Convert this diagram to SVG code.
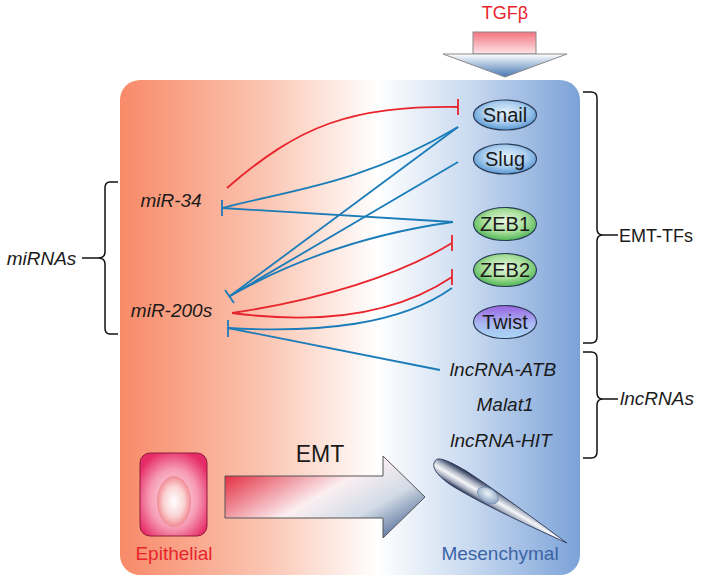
<svg xmlns="http://www.w3.org/2000/svg" width="701" height="585" viewBox="0 0 701 585">
<defs>
<linearGradient id="panel" x1="0" y1="0" x2="1" y2="0">
<stop offset="0" stop-color="#F88A68"/>
<stop offset="0.3" stop-color="#FBC2AE"/>
<stop offset="0.56" stop-color="#FFFFFF"/>
<stop offset="0.76" stop-color="#C9DAF0"/>
<stop offset="1" stop-color="#7BA2D8"/>
</linearGradient>
<linearGradient id="tgfShaft" x1="0" y1="0" x2="0" y2="1">
<stop offset="0" stop-color="#F3737E"/>
<stop offset="1" stop-color="#FDE6E8"/>
</linearGradient>
<linearGradient id="tgfHead" x1="0" y1="0" x2="0" y2="1">
<stop offset="0" stop-color="#FFFFFF"/>
<stop offset="1" stop-color="#4677B3"/>
</linearGradient>
<radialGradient id="gBlue" cx="0.5" cy="0.42" r="0.62">
<stop offset="0" stop-color="#E6F2FB"/>
<stop offset="0.55" stop-color="#A9CDEE"/>
<stop offset="1" stop-color="#4A8FCF"/>
</radialGradient>
<radialGradient id="gGreen" cx="0.5" cy="0.42" r="0.62">
<stop offset="0" stop-color="#E9F8E2"/>
<stop offset="0.55" stop-color="#A6DE98"/>
<stop offset="1" stop-color="#3FAE4A"/>
</radialGradient>
<linearGradient id="gTwist" x1="0" y1="0" x2="0" y2="1">
<stop offset="0" stop-color="#9A62E2"/>
<stop offset="0.55" stop-color="#A9B8F2"/>
<stop offset="1" stop-color="#A8D8F6"/>
</linearGradient>
<radialGradient id="gEpi" cx="0.5" cy="0.55" r="0.6">
<stop offset="0" stop-color="#FFF3F5"/>
<stop offset="0.6" stop-color="#F69AB3"/>
<stop offset="1" stop-color="#E62C68"/>
</radialGradient>
<radialGradient id="gNuc" cx="0.5" cy="0.5" r="0.5">
<stop offset="0" stop-color="#FFFFFF"/>
<stop offset="0.6" stop-color="#FBD3D3"/>
<stop offset="1" stop-color="#F18A94"/>
</radialGradient>
<linearGradient id="gEmt" x1="0" y1="0.2" x2="1" y2="0.9">
<stop offset="0" stop-color="#E3263A"/>
<stop offset="0.45" stop-color="#FBEFF1"/>
<stop offset="0.7" stop-color="#D2DBE7"/>
<stop offset="1" stop-color="#3A5888"/>
</linearGradient>
<linearGradient id="gSpindle" gradientUnits="userSpaceOnUse" x1="0" y1="-10" x2="0" y2="10">
<stop offset="0" stop-color="#1C2A4C"/>
<stop offset="0.3" stop-color="#A8B0C0"/>
<stop offset="0.55" stop-color="#F6F7F9"/>
<stop offset="0.8" stop-color="#A4ACBE"/>
<stop offset="1" stop-color="#243252"/>
</linearGradient>
<radialGradient id="gMesNuc" cx="0.45" cy="0.4" r="0.6">
<stop offset="0" stop-color="#EEF3F8"/>
<stop offset="1" stop-color="#8BA6C6"/>
</radialGradient>
</defs>
<style>
.t{font-family:"Liberation Sans",Arial,sans-serif;fill:#1a1a1a;}
.it{font-style:italic;}
.node{stroke:#2B3A55;stroke-width:1.2;}
.ntext{font-size:20px;text-anchor:middle;}
.red{stroke:#E8242C;stroke-width:1.8;fill:none;}
.blue{stroke:#1A7CB8;stroke-width:1.8;fill:none;}
.br{stroke:#111;stroke-width:1.5;fill:none;}
</style>

<rect id="panel" x="120" y="80" width="460" height="495" rx="20" fill="url(#panel)"/>

<g id="tgfb">
<text class="t" x="505" y="19" font-size="18" text-anchor="middle" style="fill:#E8242C">TGFβ</text>
<rect x="473" y="32" width="63" height="22" fill="url(#tgfShaft)" stroke="#8a8a8a" stroke-width="1"/>
<path d="M443,54 L567,54 L505,77 Z" fill="url(#tgfHead)" stroke="#8a8a8a" stroke-width="1"/>
</g>

<g id="connectors">
<path class="red" d="M227,188 C300,125 350,106 458,107"/>
<path class="red" d="M458,99 L458,115"/>
<path class="blue" d="M458,127 C360,185 290,190 222,208"/>
<path class="blue" d="M453,222 L222,208"/>
<path class="blue" d="M222,200 L222,216"/>
<path class="blue" d="M458,127 L230,296"/>
<path class="blue" d="M458,162 L230,296"/>
<path class="blue" d="M453,222 C360,235 290,262 230,296"/>
<path class="blue" d="M225,290 L234,303"/>
<path class="red" d="M232,313 C320,300 400,275 452,243"/>
<path class="red" d="M452,235 L452,251"/>
<path class="red" d="M232,313 C300,322 385,322 452,277"/>
<path class="red" d="M452,269 L452,285"/>
<path class="blue" d="M452,288 C400,325 320,333 228,328"/>
<path class="blue" d="M440,370 L228,328"/>
<path class="blue" d="M228,320 L228,337"/>
</g>

<g id="snail"><ellipse class="node" cx="505" cy="115" rx="31.5" ry="15" fill="url(#gBlue)"/><text class="t ntext" x="505" y="122">Snail</text></g>
<g id="slug"><ellipse class="node" cx="505" cy="159" rx="31.5" ry="15" fill="url(#gBlue)"/><text class="t ntext" x="505" y="166">Slug</text></g>
<g id="zeb1"><ellipse class="node" cx="505" cy="224" rx="31.5" ry="16.5" fill="url(#gGreen)"/><text class="t ntext" x="505" y="231">ZEB1</text></g>
<g id="zeb2"><ellipse class="node" cx="505" cy="270" rx="31.5" ry="16.5" fill="url(#gGreen)"/><text class="t ntext" x="505" y="277">ZEB2</text></g>
<g id="twist"><ellipse class="node" cx="505" cy="322" rx="31.5" ry="16.5" fill="url(#gTwist)"/><text class="t ntext" x="505" y="329">Twist</text></g>

<g id="mir34"><text class="t it" x="171" y="207" font-size="19" text-anchor="middle">miR-34</text></g>
<g id="mir200s"><text class="t it" x="171.5" y="317" font-size="19" text-anchor="middle">miR-200s</text></g>

<g id="lncatb"><text class="t it" x="503" y="376" font-size="19" text-anchor="middle">lncRNA-ATB</text></g>
<g id="malat1"><text class="t it" x="505" y="411" font-size="19" text-anchor="middle">Malat1</text></g>
<g id="lnchit"><text class="t it" x="501" y="447" font-size="19" text-anchor="middle">lncRNA-HIT</text></g>

<g id="mirnas-bracket">
<path class="br" d="M118,182 L110,182 Q105,182 105,188 L105,252 Q105,258 98,258 Q105,258 105,264 L105,328 Q105,334 110,334 L118,334"/>
<path class="br" d="M82,258 L98,258"/>
<text class="t it" x="41.5" y="265" font-size="19" text-anchor="middle">miRNAs</text>
</g>

<g id="emttfs-bracket">
<path class="br" d="M583,92 L591,92 Q597,92 597,98 L597,229 Q597,235 603,235 Q597,235 597,241 L597,337 Q597,343 591,343 L583,343"/>
<path class="br" d="M603,235 L618,235"/>
<text class="t" x="619" y="242" font-size="18">EMT-TFs</text>
</g>

<g id="lncrnas-bracket">
<path class="br" d="M583,352 L591,352 Q597,352 597,358 L597,393 Q597,399 603,399 Q597,399 597,405 L597,452 Q597,458 591,458 L583,458"/>
<path class="br" d="M603,399 L618,399"/>
<text class="t it" x="620" y="405" font-size="19">lncRNAs</text>
</g>

<g id="epithelial">
<rect x="140" y="453" width="67" height="83" rx="10" fill="url(#gEpi)" stroke="#8E1B3C" stroke-width="1"/>
<ellipse cx="174" cy="501.5" rx="17" ry="25.5" fill="url(#gNuc)"/>
<text class="t" x="174" y="560" font-size="19" text-anchor="middle" style="fill:#E8242C">Epithelial</text>
</g>

<g id="emt">
<path d="M225,476 L383,476 L383,456 L425,497 L383,538 L383,518 L225,518 Z" fill="url(#gEmt)" stroke="#555" stroke-width="1"/>
<text class="t" x="320" y="462" font-size="23" text-anchor="middle">EMT</text>
</g>

<g id="mesenchymal">
<g transform="translate(500,502.5) rotate(30.5)">
<path d="M-77,-2 C-78,-8 -68,-10 -45,-10 C-10,-8.5 40,-3 78,1 C40,5 -10,10 -45,10 C-66,10 -77,5 -77,-2 Z" fill="url(#gSpindle)" stroke="#2A3656" stroke-width="0.8"/>
<ellipse cx="-14" cy="0" rx="11.5" ry="7" fill="url(#gMesNuc)" stroke="#7A92B2" stroke-width="0.8"/>
</g>
<text class="t" x="500" y="560" font-size="19" text-anchor="middle" style="fill:#3B64A6">Mesenchymal</text>
</g>
</svg>
